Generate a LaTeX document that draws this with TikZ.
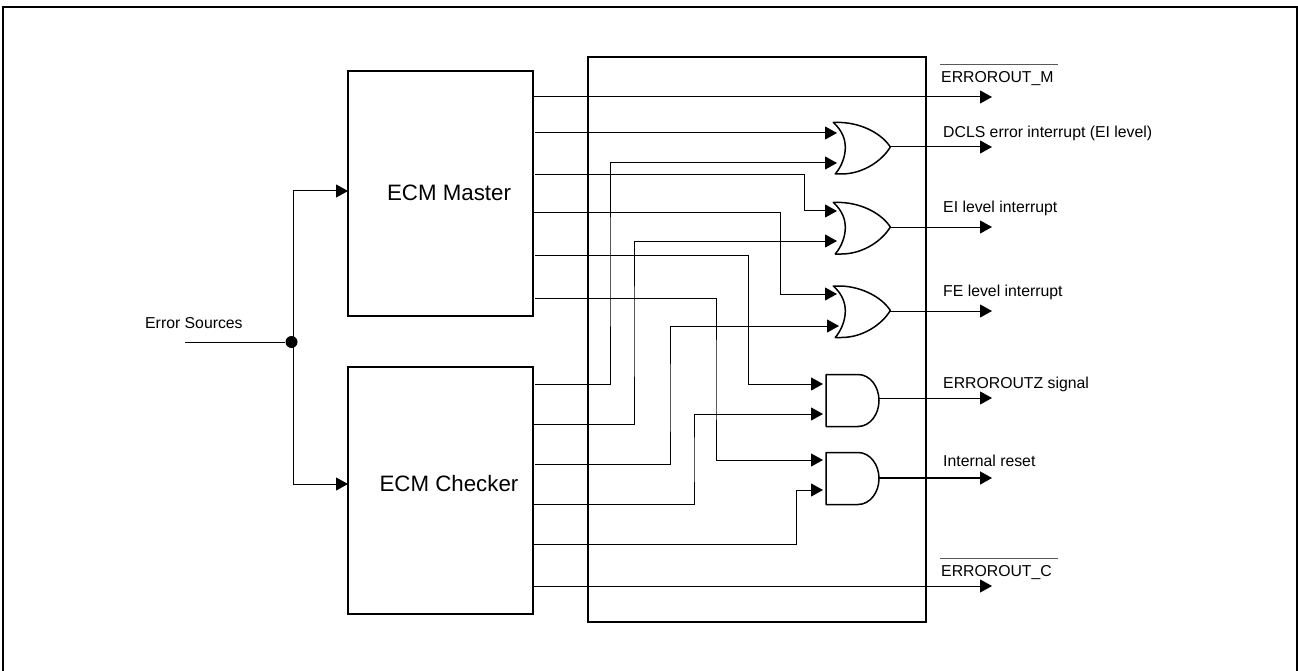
\documentclass[tikz,border=0pt]{standalone}
\usepackage{fontspec}
\setmainfont{Liberation Sans}
\usetikzlibrary{arrows.meta}
\tikzset{
  x=1pt,y=-1pt,
  wire/.style={line width=1pt,black},
  sig/.style={wire,-{Triangle[length=12pt,width=13pt]}},
  blockbox/.style={draw,line width=1.8pt,inner sep=0pt,minimum width=#1},
  blocklabel/.style={font=\fontsize{22.3}{26}\selectfont,inner sep=0pt},
  siglabel/.style={font=\fontsize{15.8}{18}\selectfont,inner sep=0pt,anchor=base west},
  bar/.style={line width=1pt,black!65},
  gateline/.style={line width=1.5pt,line join=round},
  pics/orgate/.style={code={
    \draw[gateline] (0,0) -- (8,0) .. controls (30,1) and (49,12) .. (57,24.5)
      .. controls (49,38) and (30,51.5) .. (8,51.5) -- (2,51.5)
      .. controls (9,43) and (12,33) .. (12,25)
      .. controls (12,17) and (9,8) .. (0,0) -- cycle;
    \coordinate (-out) at (57,24.5);
  }},
  pics/andgate/.style={code={
    \draw[gateline] (0,0) -- (32,0) .. controls (44,0) and (53,12) .. (53,26)
      .. controls (53,40) and (44,52) .. (32,52) -- (0,52) -- cycle;
    \coordinate (-out) at (53,26);
  }},
}
\begin{document}
\begin{tikzpicture}
\useasboundingbox (0,0) rectangle (1298,671);
\coordinate (fbl) at (3.2,671);
\coordinate (ftr) at (1297,6.8);
\coordinate (fbr) at (1297,671);
\draw[line width=2pt] (fbl) |- (ftr) -- (fbr);
% blocks
\node[blockbox=185pt,minimum height=245pt] (master) at (440.5,193.5) {};
\node[blockbox=185pt,minimum height=247pt] (checker) at (440.5,490.5) {};
\node[blockbox=338pt,minimum height=565pt] (core) at (757,339.5) {};
\node[blocklabel] (mastertxt) at (449,193) {ECM Master};
\node[blocklabel] (checkertxt) at (449,484) {ECM Checker};
% gates
\pic (or1) at (833.3,122.5) {orgate};
\pic (or2) at (833.3,202.5) {orgate};
\pic (or3) at (833.3,286) {orgate};
\pic (and1) at (826,374.5) {andgate};
\pic (and2) at (826,452.5) {andgate};
% labels
\node[siglabel] (lesrc) at (145,328.5) {Error Sources};
\node[siglabel] (lm) at (941,82.5) {ERROROUT\_M};
\node[siglabel] (l1) at (943,137.5) {DCLS error interrupt (EI level)};
\node[siglabel] (l2) at (943,212.5) {EI level interrupt};
\node[siglabel] (l3) at (943,296.5) {FE level interrupt};
\node[siglabel] (l4) at (943,388.5) {ERROROUTZ signal};
\node[siglabel] (l5) at (943,466.5) {Internal reset};
\node[siglabel] (lc) at (941,576.5) {ERROROUT\_C};
\draw[bar] (940,65) -- (1058,65);
\draw[bar] (940,558) -- (1058,558);
% ports
\coordinate (src) at (185,342);
\coordinate (j) at (291.5,342);
\coordinate (endm) at (992,97);
\coordinate (endc) at (992,586);
% input side
\node[circle,fill=black,inner sep=0pt,minimum size=12pt] (dot) at (j) {};
\draw[wire] (src) -- (dot);
\draw[sig] (dot.center) ++(1.5,0) |- (348,191) coordinate (mi);
\draw[sig] (dot.center) ++(1.5,0) |- (348,484) coordinate (ci);
% straight-through
\draw[sig] (533,97) coordinate (m0) -- (endm);
\draw[sig] (533,586) coordinate (c5) -- (endc);
% master outputs
\draw[sig] (535,133) coordinate (m1) -- (837,133) coordinate (or1a);
\draw[sig] (535,175) coordinate (m2) -| (804,193) |- (837,211) coordinate (or2a);
\draw[sig] (533,213) coordinate (m3) -| (780,250) |- (837,294) coordinate (or3a);
\draw[sig] (535,255) coordinate (m4) -| (748,320) |- (823,384) coordinate (and1a);
\draw[sig] (535,298) coordinate (m5) -| (716,380) |- (823,460) coordinate (and2a);
% checker outputs
\draw[sig] (535,384) coordinate (c0) -| (610,270) |- (837,163) coordinate (or1b);
\draw[sig] (533,424) coordinate (c1) -| (634,330) |- (837,241) coordinate (or2b);
\draw[sig] (535,464) coordinate (c2) -| (670,400) |- (839,326) coordinate (or3b);
\draw[sig] (533,504) coordinate (c3) -| (694,460) |- (823,414) coordinate (and1b);
\draw[sig] (533,544) coordinate (c4) -| (796,520) |- (823,490) coordinate (and2b);
% gate outputs
\coordinate (e1) at (992,147);
\coordinate (e2) at (992,227);
\coordinate (e3) at (992,311);
\coordinate (e4) at (992,398);
\coordinate (e5) at (992,478);
\draw[sig] (or1-out |- e1) -- (e1);
\draw[sig] (or2-out |- e2) -- (e2);
\draw[sig] (or3-out |- e3) -- (e3);
\draw[sig] (and1-out |- e4) -- (e4);
\draw[sig,line width=1.6pt] (and2-out |- e5) -- (e5);
\end{tikzpicture}
\end{document}
